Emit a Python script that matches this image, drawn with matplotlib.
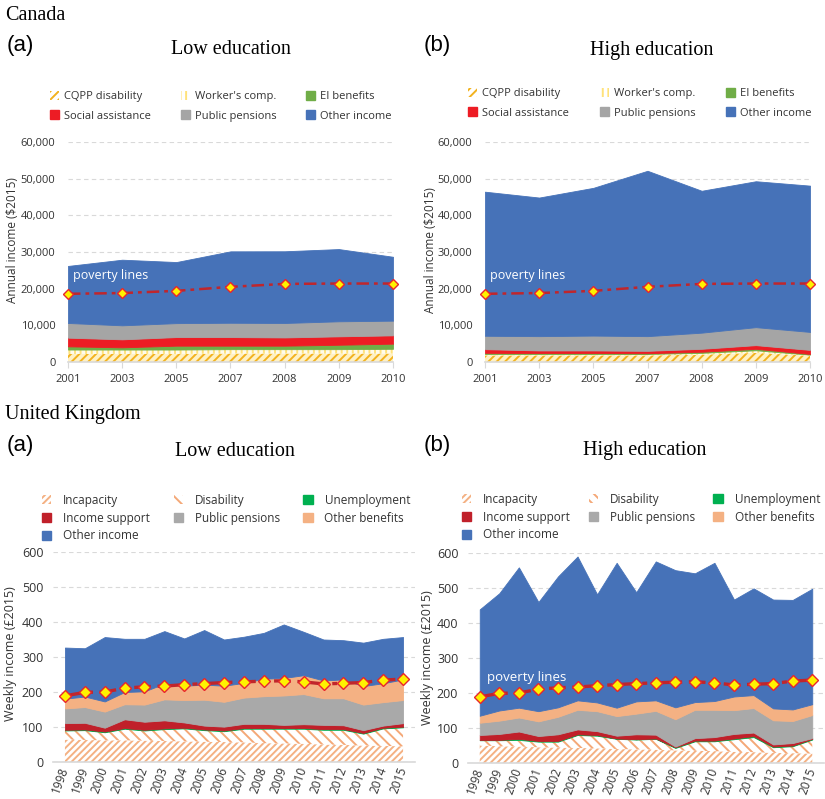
import numpy as np
import matplotlib
matplotlib.use("Agg")
from matplotlib import pyplot as plt
import matplotlib.patches as mpatches
from matplotlib.ticker import FuncFormatter

# ---- data ----
ca_years = ['2001', '2003', '2005', '2007', '2008', '2009', '2010']
ca_poverty = [18600, 18800, 19400, 20500, 21300, 21400, 21400]

ca_low_cqpp = [2200, 2200, 2200, 2300, 2300, 2300, 2300]
ca_low_wc = [1200, 1200, 1200, 1200, 1200, 1200, 1300]
ca_low_ei = [870, 600, 1050, 950, 950, 1200, 1400]
ca_low_sa = [2370, 2180, 2350, 2350, 2250, 2300, 2270]
ca_low_pp = [4000, 3820, 3800, 3900, 3940, 4100, 4000]
ca_low_other = [15560, 17900, 16660, 19480, 19560, 19700, 17430]

ca_high_cqpp = [1800, 1800, 1800, 1800, 2000, 2500, 1700]
ca_high_wc = [400, 400, 400, 400, 500, 700, 300]
ca_high_ei = [300, 250, 250, 200, 300, 400, 200]
ca_high_sa = [1000, 700, 700, 650, 800, 1000, 1100]
ca_high_pp = [3650, 3900, 4050, 4000, 4400, 4900, 4900]
ca_high_other = [39300, 37800, 40300, 45100, 38700, 39800, 39900]

uk_years = [str(y) for y in range(1998, 2016)]
uk_poverty = [189, 199, 200, 211, 215, 217, 221, 224, 227, 229, 231, 232, 229, 223, 225, 227, 234, 237]

uk_low_incap = [64, 63, 62, 62, 61, 60, 59, 58, 57, 56, 54, 53, 52, 50, 49, 47, 46, 45]
uk_low_disab = [26, 28, 23, 33, 29, 34, 37, 33, 31, 39, 41, 42, 43, 42, 43, 34, 50, 54]
uk_low_unemp = [2, 2, 2, 2, 2, 2, 2, 2, 2, 2, 2, 2, 2, 2, 2, 2, 2, 2]
uk_low_is = [19, 19, 11, 25, 23, 23, 15, 11, 11, 12, 12, 9, 11, 12, 11, 8, 6, 10]
uk_low_pp = [42, 45, 46, 43, 49, 60, 64, 74, 71, 75, 79, 84, 86, 76, 77, 73, 67, 66]
uk_low_ob = [28, 30, 29, 35, 38, 45, 41, 43, 46, 42, 50, 50, 54, 51, 54, 53, 54, 59]
uk_low_other = [146, 138, 184, 152, 150, 150, 135, 156, 132, 132, 131, 153, 124, 117, 112, 124, 127, 121]

uk_high_incap = [50, 48, 47, 45, 44, 43, 42, 40, 39, 38, 36, 35, 34, 32, 31, 29, 28, 27]
uk_high_disab = [15, 17, 19, 16, 17, 37, 36, 29, 28, 31, 7, 27, 28, 36, 43, 16, 20, 40]
uk_high_unemp = [1, 1, 3, 2, 2, 2, 2, 1, 1, 1, 2, 2, 2, 2, 3, 2, 2, 2]
uk_high_is = [14, 17, 21, 14, 19, 14, 11, 8, 14, 11, 2, 7, 10, 13, 10, 6, 7, 2]
uk_high_pp = [35, 38, 40, 42, 50, 56, 57, 56, 59, 68, 78, 81, 78, 68, 70, 69, 63, 66]
uk_high_ob = [20, 29, 28, 29, 27, 27, 25, 24, 35, 30, 34, 22, 25, 39, 37, 34, 33, 31]
uk_high_other = [304, 335, 401, 312, 374, 411, 309, 414, 312, 397, 392, 368, 395, 277, 305, 311, 313, 330]

ca_labels = ['CQPP disability', "Worker's comp.", 'EI benefits',
             'Social assistance', 'Public pensions', 'Other income']
uk_labels = ['Incapacity', 'Disability', 'Unemployment', 'Income support',
             'Public pensions', 'Other benefits', 'Other income']

# ---- styles: (facecolor, hatchcolor, hatch)
ca_styles = [('#FFF1C4', '#F2B21E', '////'),
             ('#FFFBEA', '#FFE27A', '|||'),
             ('#70AD47', None, None),
             ('#ED1C24', None, None),
             ('#A5A5A5', None, None),
             ('#4672B8', None, None)]
uk_styles = [('#FFFFFF', '#F4B183', '/////'),
             ('#FFFFFF', '#F4A877', '\\\\\\'),
             ('#00B050', None, None),
             ('#C0202A', None, None),
             ('#A9A9A9', None, None),
             ('#F4B183', None, None),
             ('#4672B8', None, None)]

plt.rcParams['font.family'] = ['Open Sans', 'DejaVu Sans']
plt.rcParams['hatch.linewidth'] = 1.4

W, H = 825, 799
fx = lambda px: px / W
fy = lambda py: 1 - py / H
TXT = '#333333'
GRID = '#D9D9D9'


def stack(ax, series, styles):
    x = np.arange(len(series[0]))
    base = np.zeros(len(x))
    for vals, (fc, hc, hatch) in zip(series, styles):
        top = base + np.array(vals, dtype=float)
        if hatch:
            ax.fill_between(x, base, top, facecolor=fc, edgecolor=hc,
                            hatch=hatch, linewidth=0, zorder=2)
        else:
            ax.fill_between(x, base, top, facecolor=fc, edgecolor=fc,
                            linewidth=0.6, zorder=2)
        base = top


def handles(labels, styles):
    out = []
    for lab, (fc, hc, hatch) in zip(labels, styles):
        if hatch:
            out.append(mpatches.Patch(facecolor='white', edgecolor=hc, hatch=hatch,
                                      linewidth=0, label=lab))
        else:
            out.append(mpatches.Patch(facecolor=fc, edgecolor=fc, label=lab))
    return out


def poverty(ax, vals, lw, ms):
    x = np.arange(len(vals))
    ax.plot(x, vals, color='#C0262C', lw=lw, linestyle=(0, (5, 2, 1.5, 2)),
            marker='D', markersize=ms, markerfacecolor='#FFF200',
            markeredgecolor='#E8262C', markeredgewidth=1, zorder=4, clip_on=False)


def base_axes(rect):
    ax = fig.add_axes(rect)
    for s in ['left', 'right', 'top']:
        ax.spines[s].set_visible(False)
    ax.spines['bottom'].set_color(GRID)
    ax.spines['bottom'].set_linewidth(1.2)
    ax.set_axisbelow(True)
    ax.yaxis.grid(True, linestyle=(0, (4, 3)), color=GRID, lw=0.8)
    ax.tick_params(axis='y', length=0, colors=TXT)
    return ax


fig = plt.figure(figsize=(W / 100, H / 100), dpi=100)

# ---------------- Canada ----------------
fig.text(fx(5), fy(15), 'Canada', family='Liberation Serif', fontsize=14.5, va='center')
for lab, ttl, xl, xt in [('(a)', 'Low education', 7, 231),
                         ('(b)', 'High education', 424, 652)]:
    fig.text(fx(xl), fy(45), lab, family='Liberation Sans', fontsize=16, va='center')
    fig.text(fx(xt), fy(50), ttl, family='Liberation Serif', fontsize=14.5,
             va='center', ha='center')

ca_panels = [(68, [ca_low_cqpp, ca_low_wc, ca_low_ei, ca_low_sa, ca_low_pp, ca_low_other], 50, 392, 91, 13, 240),
             (485, [ca_high_cqpp, ca_high_wc, ca_high_ei, ca_high_sa, ca_high_pp, ca_high_other], 468, 812, 88, 430, 250)]
for left, series, lg0, lg1, lgy, ylx, yly in ca_panels:
    ax = base_axes([fx(left), fy(362), 325 / W, 220 / H])
    stack(ax, series, ca_styles)
    poverty(ax, ca_poverty, 1.8, 5.5)
    ax.text(0.1, 23700, 'poverty lines', color='white', fontsize=9, va='center', zorder=5)
    ax.set_xlim(0, len(ca_years) - 1)
    ax.set_ylim(0, 60000)
    ax.set_yticks(np.arange(0, 60001, 10000))
    ax.yaxis.set_major_formatter(FuncFormatter(lambda v, p: f'{v:,.0f}'))
    ax.set_xticks(np.arange(len(ca_years)))
    ax.set_xticklabels(ca_years)
    ax.tick_params(axis='x', length=4, color=GRID, colors=TXT, pad=5, labelsize=8)
    ax.tick_params(axis='y', labelsize=8, pad=9)
    fig.text(fx(ylx), fy(yly), 'Annual income (\\$2015)', rotation=90, fontsize=8.5,
             color=TXT, ha='center', va='center')
    h = handles(ca_labels, ca_styles)
    order = [0, 3, 1, 4, 2, 5]
    fig.legend(handles=[h[i] for i in order], loc='upper left',
               bbox_to_anchor=(fx(lg0), fy(lgy), (lg1 - lg0) / W, 0),
               bbox_transform=fig.transFigure, mode='expand', ncol=3,
               frameon=False, fontsize=8, handlelength=0.8, handleheight=0.8,
               handletextpad=0.5, labelspacing=0.75, borderaxespad=0, borderpad=0,
               labelcolor=TXT)

# ---------------- United Kingdom ----------------
fig.text(fx(5), fy(414), 'United Kingdom', family='Liberation Serif', fontsize=14.5, va='center')
for lab, ttl, xl, xt in [('(a)', 'Low education', 7, 235),
                         ('(b)', 'High education', 424, 645)]:
    fig.text(fx(xl), fy(446), lab, family='Liberation Sans', fontsize=16, va='center')
    fig.text(fx(xt), fy(451), ttl, family='Liberation Serif', fontsize=14.5,
             va='center', ha='center')

uk_panels = [(53, 362, 762, [uk_low_incap, uk_low_disab, uk_low_unemp, uk_low_is, uk_low_pp, uk_low_ob, uk_low_other], 42, 410, 494, 11, 654, False),
             (468, 356, 763, [uk_high_incap, uk_high_disab, uk_high_unemp, uk_high_is, uk_high_pp, uk_high_ob, uk_high_other], 462, 820, 493, 428, 658, True)]
for left, width, bottom, series, lg0, lg1, lgy, ylx, yly, show_lab in uk_panels:
    ax = base_axes([fx(left), fy(bottom), width / W, 210 / H])
    stack(ax, series, uk_styles)
    poverty(ax, uk_poverty, 2.4, 6)
    if show_lab:
        ax.text(0.35, 243, 'poverty lines', color='white', fontsize=9.5, va='center', zorder=5)
    ax.set_xlim(-0.6, len(uk_years) - 0.4)
    ax.set_ylim(0, 600)
    ax.set_yticks(np.arange(0, 601, 100))
    ax.set_xticks(np.arange(len(uk_years)))
    ax.set_xticklabels(uk_years, rotation=70, ha='right', va='center',
                       rotation_mode='anchor')
    ax.tick_params(axis='x', length=0, colors=TXT, pad=4, labelsize=8.5)
    ax.tick_params(axis='y', labelsize=9, pad=7)
    fig.text(fx(ylx), fy(yly), 'Weekly income (£2015)', rotation=90, fontsize=9,
             color=TXT, ha='center', va='center')
    h = handles(uk_labels, uk_styles)
    order = [0, 3, 6, 1, 4, 2, 5]
    fig.legend(handles=[h[i] for i in order], loc='upper left',
               bbox_to_anchor=(fx(lg0), fy(lgy), (lg1 - lg0) / W, 0),
               bbox_transform=fig.transFigure, mode='expand', ncol=3,
               frameon=False, fontsize=8.5, handlelength=0.8, handleheight=0.8,
               handletextpad=1.0, labelspacing=0.4, borderaxespad=0, borderpad=0,
               labelcolor=TXT)

fig.savefig('out.png', dpi=100)
